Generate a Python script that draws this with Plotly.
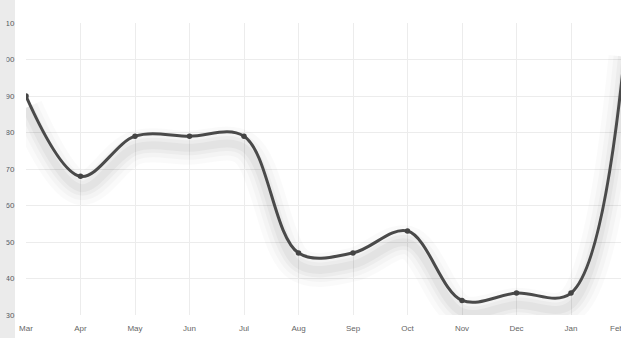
import plotly.graph_objects as go

months = ["Mar", "Apr", "May", "Jun", "Jul", "Aug", "Sep", "Oct", "Nov", "Dec", "Jan", "Feb"]
values = [90, 68, 79, 79, 79, 47, 47, 53, 34, 36, 36, 104]
y_ticks = [30, 40, 50, 60, 70, 80, 90, 100, 110]

x_idx = list(range(len(months)))

fig = go.Figure()

# soft blurred shadow below the line
shadow_offset = 3.2
for w, op in [(34, 0.018), (24, 0.022), (15, 0.03), (8, 0.035)]:
    fig.add_trace(go.Scatter(
        x=x_idx, y=[v - shadow_offset for v in values], mode="lines",
        line=dict(color=f"rgba(0,0,0,{op})", width=w, shape="spline", smoothing=1.0),
        hoverinfo="skip", showlegend=False))

fig.add_trace(go.Scatter(
    x=x_idx, y=values, mode="lines+markers",
    line=dict(color="#4a4a4a", width=3, shape="spline", smoothing=1.0),
    marker=dict(color="#444444", size=5.5),
    showlegend=False))

plot_w = 621 - 26
x_max = plot_w / 54.5

fig.update_layout(
    width=621, height=338,
    margin=dict(l=26, r=0, t=23, b=23),
    paper_bgcolor="white", plot_bgcolor="white",
    font=dict(family="Liberation Sans, Arial, sans-serif", color="#666666", size=8),
    xaxis=dict(
        range=[0, x_max], tickmode="array", tickvals=x_idx, ticktext=months,
        showgrid=True, gridcolor="#ececec", gridwidth=1, zeroline=False,
        showline=False, ticks="outside", ticklen=5, tickcolor="rgba(0,0,0,0)",
        tickfont=dict(size=8, color="#666666"), fixedrange=True),
    yaxis=dict(
        range=[30, 110], tickmode="array", tickvals=y_ticks,
        ticktext=[str(t) for t in y_ticks],
        showgrid=True, gridcolor="#ececec", gridwidth=1, zeroline=False,
        showline=False, ticks="outside", ticklen=9, tickcolor="rgba(0,0,0,0)",
        tickfont=dict(size=8, color="#666666"), fixedrange=True),
    shapes=[
        dict(type="rect", xref="paper", yref="paper",
             x0=-27 / plot_w, x1=-11 / plot_w, y0=-24 / 292, y1=316 / 292,
             fillcolor="rgba(0,0,0,0.08)", line=dict(width=0), layer="above"),
        dict(type="rect", xref="paper", yref="paper",
             x0=-27 / plot_w, x1=-19.5 / plot_w, y0=-24 / 292, y1=316 / 292,
             fillcolor="#ebebeb", line=dict(width=0), layer="above"),
    ],
    annotations=[dict(x=11 / x_max, y=0, xref="paper", yref="paper", text=months[-1],
                      showarrow=False, yanchor="top", yshift=-7,
                      font=dict(size=8, color="#666666"))],
)

fig.write_html("out.html")
